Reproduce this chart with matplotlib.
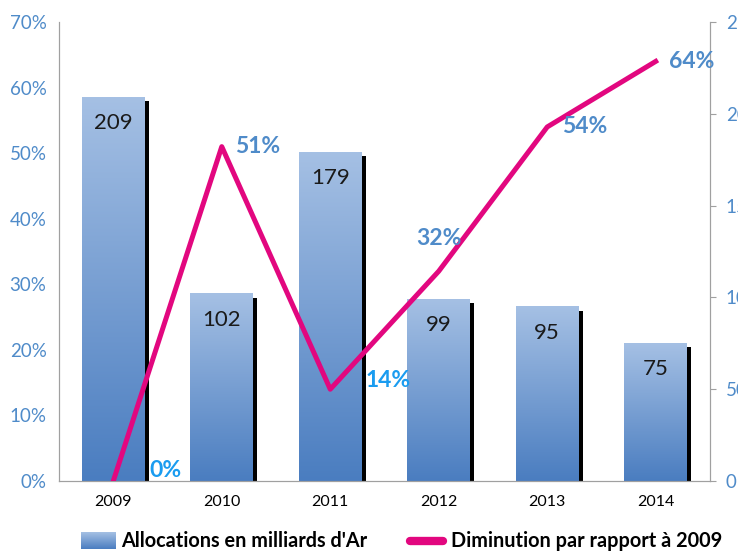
#!/usr/bin/env python3
"""Allocations vs. diminution par rapport à 2009 (bar + line, twin axes)."""

import matplotlib
matplotlib.use("Agg")
import matplotlib.pyplot as plt
import numpy as np
from matplotlib.colors import LinearSegmentedColormap
from matplotlib.lines import Line2D

years = ["2009", "2010", "2011", "2012", "2013", "2014"]
allocations = [209, 102, 179, 99, 95, 75]
diminution = [0.00, 0.51, 0.14, 0.32, 0.54, 0.64]
dim_labels = ["0%", "51%", "14%", "32%", "54%", "64%"]
pct_ticks = [0, 0.1, 0.2, 0.3, 0.4, 0.5, 0.6, 0.7]
alloc_ticks = [0, 50, 100, 150, 200, 250]

BLUE_TXT = "#4f8bc9"
BRIGHT = "#1a9cf0"
PINK = "#e2077f"
GRAD = LinearSegmentedColormap.from_list("bar", ["#4a7dc0", "#a5c0e4"])

plt.rcParams.update({"font.family": ["Lato", "DejaVu Sans"], "font.size": 13})

fig = plt.figure(figsize=(7.38, 5.51), dpi=100)
ax = fig.add_axes([0.080, 0.127, 0.882, 0.833])
ax_pct = ax.twinx()

x = np.arange(len(years))
width = 0.58
px_x = 1 / 108.5          # one pixel in category units
px_y = 250 / 459          # one pixel in allocation units
grad = np.linspace(0, 1, 256).reshape(-1, 1)

for xi, v in zip(x, allocations):
    # black drop shadow to the right
    ax.bar(xi + 4 * px_x, v, width, bottom=-4 * px_y, color="black", zorder=1)
    ax.imshow(grad, extent=[xi - width / 2, xi + width / 2, 0, v], origin="lower",
              cmap=GRAD, aspect="auto", zorder=2)
    ax.text(xi, v - 26 * px_y, str(v), ha="center", va="center",
            fontsize=16, color="#1a1a1a", zorder=3)

ax.set_xlim(-0.5, len(years) - 0.5)
ax.set_ylim(0, 250)
ax.set_yticks(alloc_ticks)
ax.yaxis.tick_right()
ax.set_xticks(x, years)
ax.tick_params(axis="x", length=0, labelsize=11.5, pad=10, colors="black")
ax.tick_params(axis="y", colors="#a0a0a0", labelcolor=BLUE_TXT, labelsize=13.5,
               length=4.5, pad=7)

ax_pct.plot(x, diminution, color=PINK, linewidth=3.6, zorder=5)
ax_pct.set_ylim(0, 0.7)
ax_pct.set_yticks(pct_ticks, [f"{int(round(t * 100))}%" for t in pct_ticks])
ax_pct.yaxis.tick_left()
ax_pct.tick_params(axis="y", length=0, labelcolor=BLUE_TXT, labelsize=13.5, pad=9)

offsets = [(52, 11), (36, 0), (58, 9), (0, 33), (37, 0), (36, 0)]
colors = [BRIGHT, BLUE_TXT, BRIGHT, BLUE_TXT, BLUE_TXT, BLUE_TXT]
for xi, v, lab, off, c in zip(x, diminution, dim_labels, offsets, colors):
    ax_pct.annotate(lab, (xi, v), xytext=off, textcoords="offset pixels",
                    ha="center", va="center", fontsize=16.5, fontweight="bold",
                    color=c, annotation_clip=False, zorder=6)

for a in (ax, ax_pct):
    a.spines["top"].set_visible(False)
    for s in ("left", "right", "bottom"):
        a.spines[s].set_color("#a0a0a0")
ax_pct.set_zorder(ax.get_zorder() + 1)
ax_pct.patch.set_visible(False)

# legend drawn by hand so the swatch can carry the gradient
sw = fig.add_axes([81 / 738, 1 - 549 / 551, 35 / 738, 17 / 551])
sw.imshow(grad, origin="lower", cmap=GRAD, aspect="auto")
sw.axis("off")
fig.text(121 / 738, 1 - 541 / 551, "Allocations en milliards d'Ar",
         fontsize=14.3, fontweight="bold", va="center", ha="left")
fig.add_artist(Line2D([410 / 738, 443 / 738], [1 - 541 / 551] * 2, color=PINK,
                      linewidth=6, solid_capstyle="round", transform=fig.transFigure))
fig.text(451 / 738, 1 - 541 / 551, "Diminution par rapport à 2009",
         fontsize=14.3, fontweight="bold", va="center", ha="left")

fig.savefig("out.png", dpi=100, facecolor="white")
